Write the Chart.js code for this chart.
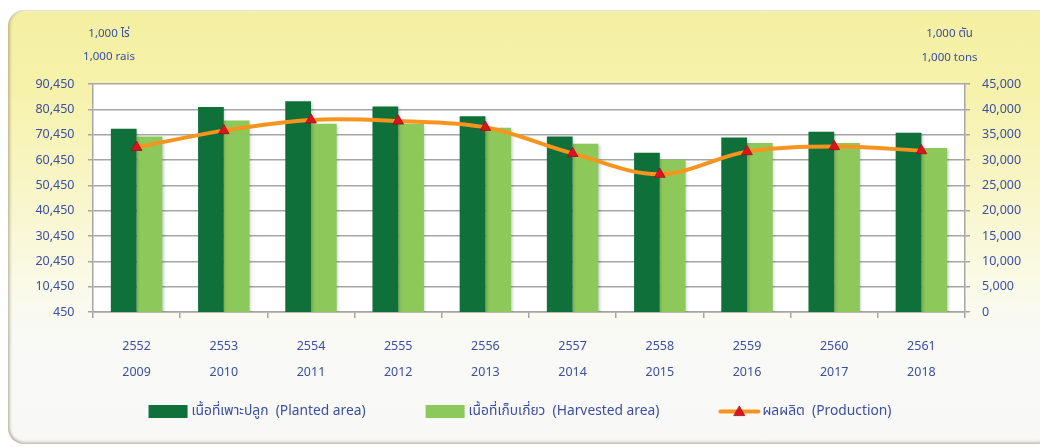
<!DOCTYPE html>
<html>
<head>
<meta charset="utf-8">
<script src="https://cdn.jsdelivr.net/npm/chart.js@4.4.1/dist/chart.umd.min.js"></script>
<style>
  html, body { margin: 0; padding: 0; background: #ffffff; width: 1040px; height: 447px; overflow: hidden; }
  #panel {
    position: absolute; left: 8px; top: 10px; width: 1045px; height: 434px;
    border-radius: 16px;
    background: linear-gradient(to bottom, #f4efa0 0%, #f6f2ab 18%, #f8f5c6 40%, #fafae6 62%, #f9f9f6 74%, #f8f8f8 100%);
    box-shadow: inset 2px 0 3px rgba(120,110,80,0.35), inset 0 -2px 3px rgba(120,110,80,0.30), inset 0 2px 2px rgba(255,255,255,0.6);
  }
  #wrap { position: absolute; left: 0; top: 0; width: 1040px; height: 447px; }
</style>
</head>
<body>
<div id="panel"></div>
<div id="wrap"><canvas id="c" width="1040" height="447"></canvas></div>
<script>
// ---- data ----
const yearsBE = ['2552', '2553', '2554', '2555', '2556', '2557', '2558', '2559', '2560', '2561'];
const yearsAD = ['2009', '2010', '2011', '2012', '2013', '2014', '2015', '2016', '2017', '2018'];
const plantedArea   = [72800, 81400, 83600, 81600, 77700, 69700, 63300, 69300, 71600, 71200];
const harvestedArea = [69700, 76000, 74800, 74800, 73200, 66900, 60500, 67200, 67200, 65200];
const production    = [32500, 35800, 37900, 37700, 36450, 31300, 27200, 31650, 32650, 31850];
const seriesNames = ['เนื้อที่เพาะปลูก  (Planted area)', 'เนื้อที่เก็บเกี่ยว  (Harvested area)', 'ผลผลิต  (Production)'];
const leftUnits = ['1,000 ไร่', '1,000 rais'];
const rightUnits = ['1,000 ตัน', '1,000 tons'];

const BLUE = '#3b4fa3';
const GRID = '#a6a6a6';
const DARK = '#10703a';
const LIGHT = '#8dc85b';
const ORANGE = '#f7941d';
const RED = '#d9141e';
const RED_EDGE = '#a30d14';
const FONT = "'Noto Sans', 'Noto Sans Thai', Tahoma, 'DejaVu Sans', sans-serif";

const panelPlugin = {
  id: 'panelPlugin',
  beforeDraw(chart) {
    const {ctx, chartArea: a} = chart;
    ctx.save();
    ctx.fillStyle = '#ffffff';
    ctx.fillRect(a.left, a.top, a.right - a.left, a.bottom - a.top);
    ctx.restore();
  },
  beforeDatasetDraw(chart, args) {
    if (chart.data.datasets[args.index].type === 'bar') {
      const ctx = chart.ctx;
      ctx.save();
      ctx.shadowColor = 'rgba(0,0,0,0.22)';
      ctx.shadowBlur = 3;
      ctx.shadowOffsetX = 1.5;
      ctx.shadowOffsetY = 1;
    }
  },
  afterDatasetDraw(chart, args) {
    if (chart.data.datasets[args.index].type === 'bar') chart.ctx.restore();
  },
  afterDraw(chart) {
    const {ctx, chartArea: a} = chart;
    ctx.save();
    // unit captions
    ctx.fillStyle = BLUE;
    ctx.font = '11.5px ' + FONT;
    ctx.textAlign = 'center';
    ctx.textBaseline = 'middle';
    ctx.fillText(leftUnits[0], a.left + 16, 34);
    ctx.fillText(leftUnits[1], a.left + 16, 57);
    ctx.fillText(rightUnits[0], a.right - 15.5, 34);
    ctx.fillText(rightUnits[1], a.right - 15.5, 58);

    // legend
    const boxW = 39, boxH = 13, textGap = 4, itemGap = 60;
    const cy = 411.5;
    ctx.font = '13.8px ' + FONT;
    const widths = chart.data.datasets.map(d => boxW + textGap + ctx.measureText(d.label).width);
    const total = widths.reduce((s, w) => s + w, 0) + itemGap * (widths.length - 1);
    let x = chart.width / 2 - total / 2;
    chart.data.datasets.forEach((d, i) => {
      if (d.type === 'bar') {
        ctx.fillStyle = d.backgroundColor;
        ctx.fillRect(x, cy - boxH / 2, boxW, boxH);
      } else {
        ctx.strokeStyle = d.borderColor; ctx.lineWidth = 4; ctx.lineCap = 'round';
        ctx.beginPath(); ctx.moveTo(x + 1, cy); ctx.lineTo(x + boxW, cy); ctx.stroke();
        const mx = x + boxW / 2 + 0.5, r = 6.2;
        ctx.fillStyle = RED; ctx.strokeStyle = RED_EDGE; ctx.lineWidth = 0.8;
        ctx.beginPath();
        ctx.moveTo(mx, cy - r + 1);
        ctx.lineTo(mx + r * 0.866, cy + r / 2 + 1);
        ctx.lineTo(mx - r * 0.866, cy + r / 2 + 1);
        ctx.closePath(); ctx.fill(); ctx.stroke();
      }
      ctx.fillStyle = BLUE;
      ctx.textAlign = 'left';
      ctx.fillText(d.label, x + boxW + textGap, cy);
      x += widths[i] + itemGap;
    });
    ctx.restore();
  }
};

const labels = yearsBE.map((b, i) => [b, yearsAD[i]]);

new Chart(document.getElementById('c'), {
  type: 'bar',
  data: {
    labels: labels,
    datasets: [
      { type: 'bar', label: seriesNames[0], data: plantedArea, backgroundColor: DARK, borderWidth: 0,
        yAxisID: 'y', order: 2, barPercentage: 1, categoryPercentage: 0.59 },
      { type: 'bar', label: seriesNames[1], data: harvestedArea, backgroundColor: LIGHT, borderWidth: 0,
        yAxisID: 'y', order: 2, barPercentage: 1, categoryPercentage: 0.59 },
      { type: 'line', label: seriesNames[2], data: production, borderColor: ORANGE, borderWidth: 4,
        backgroundColor: RED, pointStyle: 'triangle', pointRadius: 6.2, pointBackgroundColor: RED,
        pointBorderColor: RED_EDGE, pointBorderWidth: 0.8, tension: 0.35, yAxisID: 'y1', order: 1, fill: false }
    ]
  },
  options: {
    responsive: false,
    animation: false,
    devicePixelRatio: 1,
    layout: { padding: { left: 0, right: 0, top: 84, bottom: 0 } },
    plugins: {
      tooltip: { enabled: false },
      legend: { display: false }
    },
    scales: {
      x: {
        grid: { drawOnChartArea: false, drawTicks: true, tickLength: 6, color: GRID, lineWidth: 1.5, offset: true },
        border: { color: GRID, width: 1.5 },
        ticks: { color: BLUE, font: { family: FONT, size: 12.5, lineHeight: 2.1 }, padding: 15, maxRotation: 0, autoSkip: false },
        afterFit(s) { s.height = 135; }
      },
      y: {
        position: 'left', min: 450, max: 90450,
        ticks: { stepSize: 10000, color: BLUE, font: { family: FONT, size: 12.5 }, padding: 13.5 },
        grid: { color: GRID, lineWidth: 1.5, tickLength: 5 },
        border: { color: GRID, width: 1.5 },
        afterFit(s) { s.width = 93; }
      },
      y1: {
        position: 'right', min: 0, max: 45000,
        ticks: { stepSize: 5000, color: BLUE, font: { family: FONT, size: 12.5 }, padding: 12 },
        grid: { drawOnChartArea: false, color: GRID, lineWidth: 1.5, tickLength: 5 },
        border: { color: GRID, width: 1.5 },
        afterFit(s) { s.width = 75; }
      }
    }
  },
  plugins: [panelPlugin]
});
</script>
</body>
</html>
